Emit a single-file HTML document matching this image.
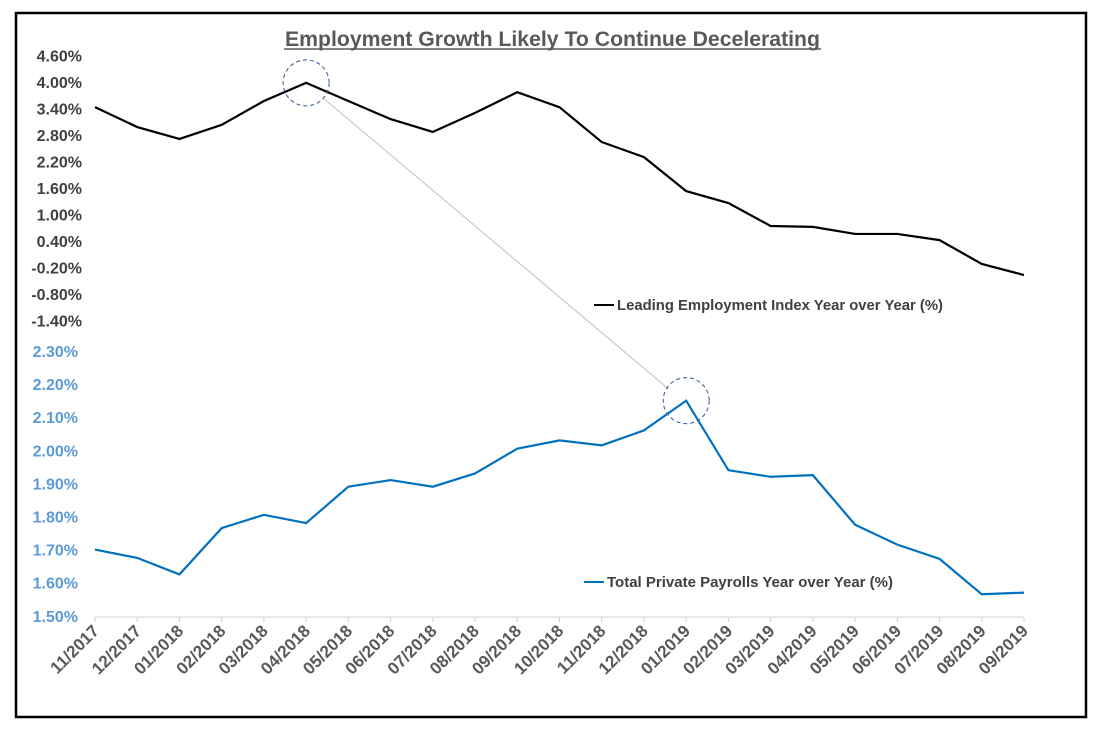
<!DOCTYPE html>
<html><head><meta charset="utf-8"><style>
body{margin:0;background:#fff;}
svg{display:block;font-family:"Liberation Sans",sans-serif;}
</style></head><body>
<svg id="chart" width="1098" height="735">
<rect x="16" y="13" width="1070" height="704" fill="#fff" stroke="#000" stroke-width="2.5"/>
<text x="285" y="46" textLength="535" lengthAdjust="spacingAndGlyphs" font-size="21" font-weight="bold" fill="#595959">Employment Growth Likely To Continue Decelerating</text>
<line x1="284" y1="49" x2="821" y2="49" stroke="#595959" stroke-width="1.5"/>
<g id="g"></g>
</svg>
<script>
const categories=["11/2017","12/2017","01/2018","02/2018","03/2018","04/2018","05/2018","06/2018","07/2018","08/2018","09/2018","10/2018","11/2018","12/2018","01/2019","02/2019","03/2019","04/2019","05/2019","06/2019","07/2019","08/2019","09/2019"];
const leiValues=[3.43,2.98,2.71,3.03,3.57,3.98,3.57,3.16,2.87,3.30,3.77,3.43,2.64,2.30,1.53,1.26,0.74,0.72,0.56,0.56,0.42,-0.12,-0.37];
const payrollValues=[1.70,1.675,1.625,1.765,1.805,1.78,1.89,1.91,1.89,1.93,2.005,2.03,2.015,2.06,2.15,1.94,1.92,1.925,1.775,1.715,1.672,1.565,1.57];
const leiTicks=[4.6,4.0,3.4,2.8,2.2,1.6,1.0,0.4,-0.2,-0.8,-1.4];
const payTicks=[2.3,2.2,2.1,2.0,1.9,1.8,1.7,1.6,1.5];
const NS="http://www.w3.org/2000/svg";
const g=document.getElementById('g');
const x=i=>95+i*(1024-95)/(categories.length-1);
const yL=v=>82+(4.0-v)/0.6*26.5;
const yP=v=>351+(2.3-v)/0.1*33.1;
function mk(t,a){const e=document.createElementNS(NS,t);for(const k in a)e.setAttribute(k,a[k]);g.appendChild(e);return e;}
leiTicks.forEach(v=>{const e=mk('text',{x:82,y:yL(v)+6,'text-anchor':'end','font-size':16,'font-weight':'bold',fill:'#404040'});e.textContent=v.toFixed(2)+'%';

});
payTicks.forEach(v=>{const e=mk('text',{x:78,y:yP(v)+6,'text-anchor':'end','font-size':16,'font-weight':'bold',fill:'#5B9BD5'});e.textContent=v.toFixed(2)+'%';

});
const ax=mk('line',{x1:95,y1:617,x2:1024,y2:617,stroke:'#d0d0d0','stroke-width':1});


categories.forEach((c,i)=>{const t=mk('line',{x1:x(i),y1:617,x2:x(i),y2:622,stroke:'#d0d0d0'});


const e=mk('text',{x:x(i)+5,y:632,'text-anchor':'end','font-size':17,'font-weight':'bold',fill:'#595959',transform:`rotate(-45 ${x(i)+5} 632)`});e.textContent=c;

});
const iPk=5,iPk2=14;
const cn=mk('line',{x1:x(iPk)+18,y1:yL(leiValues[iPk])+16,x2:x(iPk2)-18,y2:yP(payrollValues[iPk2])-12,stroke:'#bfbfbf','stroke-width':1});


const l1=mk('polyline',{points:leiValues.map((v,i)=>x(i)+','+yL(v)).join(' '),fill:'none',stroke:'#000','stroke-width':2.2});


const l2=mk('polyline',{points:payrollValues.map((v,i)=>x(i)+','+yP(v)).join(' '),fill:'none',stroke:'#0070C0','stroke-width':2.2});


const c1=mk('circle',{cx:x(iPk),cy:yL(leiValues[iPk]),r:23,fill:'none',stroke:'#2F5597','stroke-width':1,'stroke-dasharray':'4,3'});


const c2=mk('circle',{cx:x(iPk2),cy:yP(payrollValues[iPk2]),r:23,fill:'none',stroke:'#2F5597','stroke-width':1,'stroke-dasharray':'4,3'});


const lg1=mk('line',{x1:594,y1:305,x2:614,y2:305,stroke:'#000','stroke-width':2});


const lt1=mk('text',{x:617,y:310,'font-size':15,'font-weight':'bold',fill:'#404040',textLength:326,lengthAdjust:'spacingAndGlyphs'});lt1.textContent='Leading Employment Index Year over Year (%)';


const lg2=mk('line',{x1:584,y1:582,x2:604,y2:582,stroke:'#0070C0','stroke-width':2});


const lt2=mk('text',{x:607,y:587,'font-size':15,'font-weight':'bold',fill:'#404040',textLength:286,lengthAdjust:'spacingAndGlyphs'});lt2.textContent='Total Private Payrolls Year over Year (%)';


</script>
</body></html>
